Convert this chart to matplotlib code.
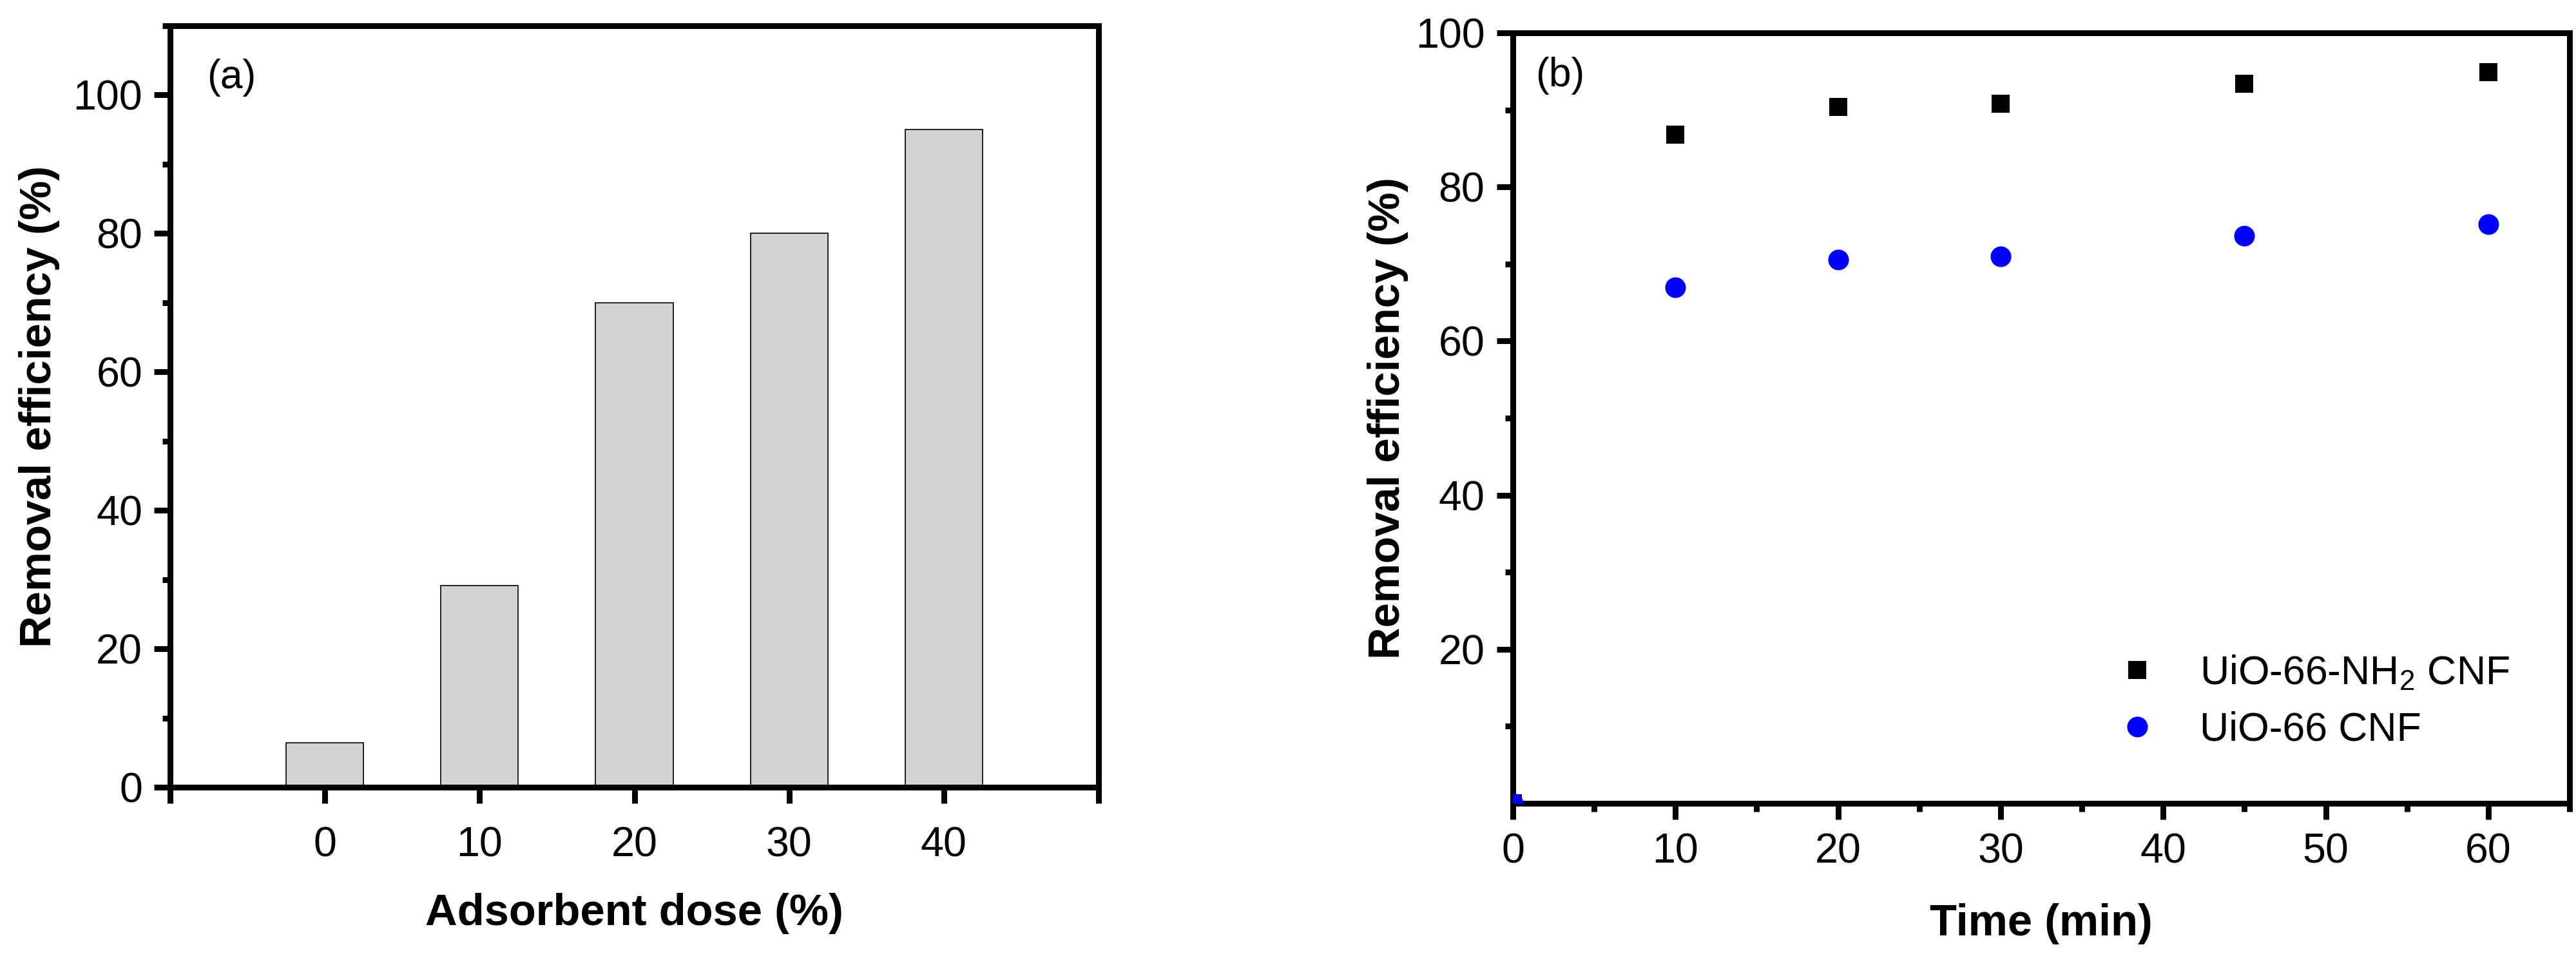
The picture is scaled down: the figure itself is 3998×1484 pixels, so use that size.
import matplotlib
matplotlib.use("Agg")
import matplotlib.pyplot as plt

plt.rcParams['font.family'] = ['Liberation Sans', 'DejaVu Sans']
plt.rcParams['mathtext.fontset'] = 'custom'
plt.rcParams['mathtext.rm'] = 'Liberation Sans'
plt.rcParams['mathtext.it'] = 'Liberation Sans:italic'
plt.rcParams['mathtext.bf'] = 'Liberation Sans:bold'

# (a) removal efficiency vs adsorbent dose
doses = [0, 10, 20, 30, 40]
dose_removal = [6.4, 29.1, 70.0, 80.0, 95.0]
dose_ticks = [-10, 0, 10, 20, 30, 40, 50]
dose_ticklabels = ['', '0', '10', '20', '30', '40', '']

# (b) removal efficiency vs contact time
times = [0, 10, 20, 30, 45, 60]
nh2_removal = [0, 86.8, 90.4, 90.8, 93.4, 94.9]
uio_removal = [0, 67.0, 70.6, 71.0, 73.7, 75.2]
time_ticks = [0, 10, 20, 30, 40, 50, 60]

W, H, DPI = 3998, 1484, 300
fig = plt.figure(figsize=(W / DPI, H / DPI), dpi=DPI)

lw = 2.16
tick_fs = 15.5
label_fs = 16.5

ax1 = fig.add_axes([264 / W, 1 - 1222 / H, (1705 - 264) / W, (1222 - 40) / H])
ax2 = fig.add_axes([2348 / W, 1 - 1247 / H, (3988 - 2348) / W, (1247 - 51) / H])

for ax in (ax1, ax2):
    for sp in ax.spines.values():
        sp.set_linewidth(lw)
    ax.tick_params(which='both', direction='out', width=lw, top=False, right=False,
                   labelsize=tick_fs)
    ax.tick_params(which='major', length=6)
    ax.tick_params(which='minor', length=3)

# panel a
ax1.bar(doses, dose_removal, width=5, color='#d3d3d3', edgecolor='black', linewidth=0.4)
ax1.set_xlim(-10, 50)
ax1.set_ylim(0, 110)
ax1.set_xticks(dose_ticks)
ax1.set_xticklabels(dose_ticklabels)
ax1.set_yticks([0, 20, 40, 60, 80, 100])
ax1.set_yticks([10, 30, 50, 70, 90, 110], minor=True)
ax1.tick_params(axis='x', pad=8.4)
ax1.tick_params(axis='y', pad=4.3)
ax1.set_xlabel('Adsorbent dose (%)', fontsize=label_fs, fontweight='bold')
ax1.set_ylabel('Removal efficiency (%)', fontsize=label_fs, fontweight='bold')
ax1.xaxis.set_label_coords(0.5, -0.139)
ax1.yaxis.set_label_coords(-0.1187, 0.5)
ax1.text(0.0396, 0.932, '(a)', transform=ax1.transAxes, fontsize=15,
         ha='left', va='center')

# panel b
ax2.plot(times, nh2_removal, 's', color='black', markersize=6.5, markeredgewidth=0,
         zorder=3, label='UiO-66-NH$_2$ CNF')
ax2.plot(times, uio_removal, 'o', color='#0000ff', markersize=7.7, markeredgewidth=0,
         zorder=3, label='UiO-66 CNF')
ax2.set_xlim(0, 65)
ax2.set_ylim(0, 100)
ax2.set_xticks(time_ticks)
ax2.set_xticks([5, 15, 25, 35, 45, 55, 65], minor=True)
ax2.set_yticks([20, 40, 60, 80, 100])
ax2.set_yticks([10, 30, 50, 70, 90], minor=True)
ax2.tick_params(axis='x', pad=5)
ax2.tick_params(axis='y', pad=4.5)
ax2.set_xlabel('Time (min)', fontsize=label_fs, fontweight='bold')
ax2.set_ylabel('Removal efficiency (%)', fontsize=label_fs, fontweight='bold')
ax2.xaxis.set_label_coords(0.5, -0.130)
ax2.yaxis.set_label_coords(-0.0988, 0.5)
ax2.text(0.0213, 0.944, '(b)', transform=ax2.transAxes, fontsize=15,
         ha='left', va='center')
ax2.legend(loc='upper left', bbox_to_anchor=(0.572, 0.194), frameon=False,
           fontsize=15, handlelength=1.0, handletextpad=1.05, labelspacing=0.46,
           borderpad=0, borderaxespad=0)

fig.savefig('out.png', dpi=DPI)
